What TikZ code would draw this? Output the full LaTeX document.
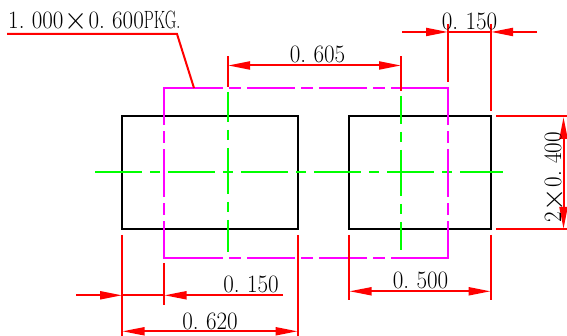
\documentclass[tikz,border=0pt]{standalone}
\usepackage{graphicx}
\usetikzlibrary{arrows.meta}
\definecolor{pkgmag}{RGB}{255,0,255}
\definecolor{dimred}{RGB}{255,0,0}
\definecolor{clgreen}{RGB}{0,255,0}
\newcommand{\dimtxt}[1]{\scalebox{0.92}[1]{\fontsize{25}{25}\selectfont #1}}
\newcommand{\dotgap}{.\hspace{8pt}}
\newcommand{\bigx}{\hspace{1pt}\raisebox{-1.5pt}{\scalebox{1.3}{$\times$}}\hspace{1pt}}
\tikzset{
  x=1pt,y=-1pt,
  body/.style={draw=black,line width=2pt,line join=miter},
  redline/.style={draw=dimred,line width=2pt},
  headend/.style={-{Triangle[length=22pt,width=8pt]}},
  headboth/.style={{Triangle[length=22pt,width=8pt]}-{Triangle[length=22pt,width=8pt]}},
  centre/.style={draw=clgreen,line width=2pt},
  pkg/.style={draw=pkgmag,line width=2pt,line cap=rect},
  dimlabel/.style={anchor=base,inner sep=0pt,text=black},
}
\begin{document}
\begin{tikzpicture}
\useasboundingbox[fill=white] (0,0) rectangle (567,336);
% pads
\draw[body] (122,116) rectangle (298,229.5);
\draw[body] (349,116) rectangle (491,229.5);
\draw[draw=black,line width=2.4pt] (380,116) -- (429,116);
% centre lines
\draw[centre,dash pattern=on 47pt off 8pt on 10pt off 8pt] (95,172.2) -- (503,172.2);
\draw[centre,dash pattern=on 30pt off 8pt on 10pt off 8pt on 46pt off 8pt on 10pt off 8pt on 46pt] (228,92) -- (228,252);
\draw[centre,dash pattern=on 28pt off 8pt on 10pt off 8pt on 46pt off 8pt on 10pt off 8pt on 46pt] (401,96) -- (401,250);
% package outline
\draw[pkg,dash pattern=on 58pt off 8pt on 10pt off 8pt on 46pt off 8pt on 10pt off 8pt on 46pt off 8pt on 10pt off 8pt on 100pt] (164,88) -- (448,88);
\draw[pkg,dash pattern=on 58pt off 8pt on 10pt off 8pt on 46pt off 8pt on 10pt off 8pt on 46pt off 8pt on 10pt off 8pt on 100pt] (164,258) -- (448,258);
\draw[pkg,dash pattern=on 36pt off 8pt on 10pt off 8pt on 46pt off 8pt on 10pt off 8pt on 50pt] (164,88) -- (164,258);
\draw[pkg,dash pattern=on 36pt off 8pt on 10pt off 8pt on 46pt off 8pt on 10pt off 8pt on 50pt] (448,88) -- (448,258);
% leader
\draw[redline,line join=miter] (7,34) -- (177,34) -- (194,88);
% extension lines
\draw[redline] (228,56.5) -- (228,87);
\draw[redline] (401,56.5) -- (401,91);
\draw[redline] (448,24) -- (448,82);
\draw[redline] (491,24) -- (491,111);
\draw[redline] (496,116) -- (567,116);
\draw[redline] (496,229.5) -- (567,229.5);
\draw[redline] (122,235) -- (122,336);
\draw[redline] (164,263) -- (164,305);
\draw[redline] (298,235) -- (298,336);
\draw[redline] (349,235) -- (349,300);
\draw[redline] (491,235) -- (491,300);
% dimension lines
\draw[redline,headboth] (228,65.5) -- (401,65.5);
\draw[redline,headend] (402,32) -- (448,32);
\draw[redline,headend] (537,32) -- (491,32);
\draw[redline] (448,32) -- (491,32);
\draw[redline,headboth] (563.5,117) -- (563.5,229);
\draw[redline,headend] (76,295.3) -- (122,295.3);
\draw[redline,headend] (283,295.3) -- (164.5,295.3);
\draw[redline] (122,295.3) -- (164,295.3);
\draw[redline,headboth] (349.5,291.3) -- (490.5,291.3);
\draw[redline,headboth] (122.5,331.3) -- (297.5,331.3);
% labels
\node[dimlabel,anchor=base west] (title) at (8,28.5) {\dimtxt{1\dotgap 000\bigx 0\dotgap 600\scalebox{0.69}[1]{PKG.}}};
\node[dimlabel] (d605) at (317.5,63) {\dimtxt{0\dotgap 605}};
\node[dimlabel] (d150a) at (469.5,30) {\dimtxt{0\dotgap 150}};
\node[dimlabel] (d150b) at (251,293) {\dimtxt{0\dotgap 150}};
\node[dimlabel] (d620) at (210,329) {\dimtxt{0\dotgap 620}};
\node[dimlabel] (d500) at (420.5,289) {\dimtxt{0\dotgap 500}};
\node[dimlabel,rotate=90] (d400) at (561,177.5) {\dimtxt{2\bigx 0\dotgap 400}};
\end{tikzpicture}
\end{document}
